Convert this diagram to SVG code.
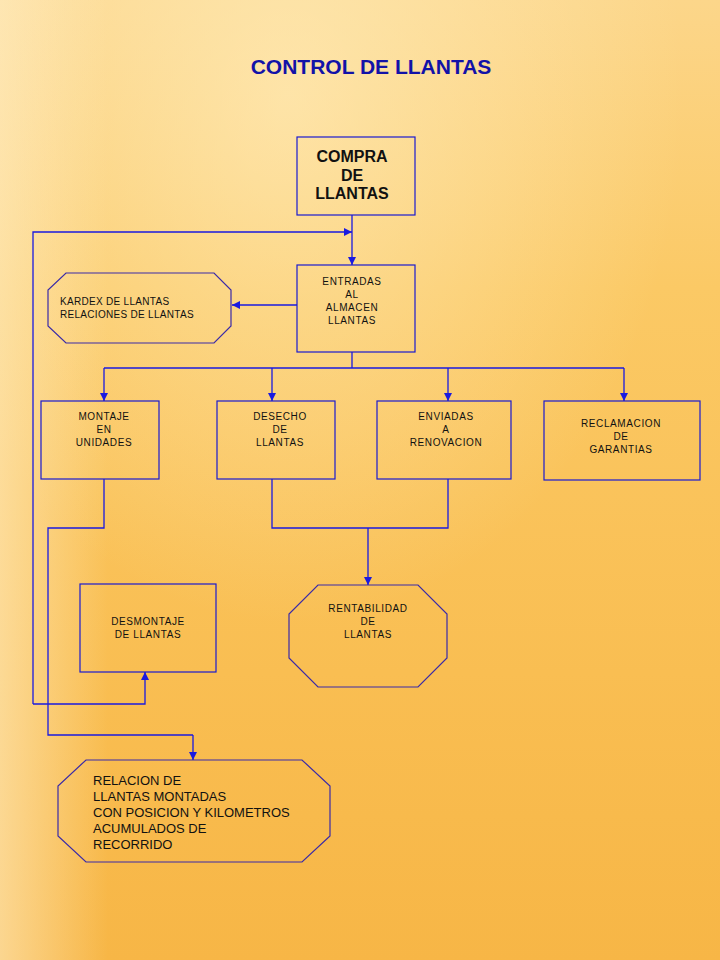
<svg xmlns="http://www.w3.org/2000/svg" width="720" height="960" viewBox="0 0 720 960">
<defs>
<linearGradient id="bg" x1="0" y1="0" x2="0" y2="1">
<stop offset="0" stop-color="#fcd68a"/>
<stop offset="0.3" stop-color="#fbc965"/>
<stop offset="0.7" stop-color="#f9be52"/>
<stop offset="1" stop-color="#f7b646"/>
</linearGradient>
<linearGradient id="lefthl" x1="0" y1="0" x2="1" y2="0">
<stop offset="0" stop-color="#fff0cc" stop-opacity="0.55"/>
<stop offset="0.15" stop-color="#fff0cc" stop-opacity="0"/>
</linearGradient>
<radialGradient id="tophl" cx="0.4" cy="0.1" r="0.55">
<stop offset="0" stop-color="#fff0c4" stop-opacity="0.6"/>
<stop offset="1" stop-color="#fff0c4" stop-opacity="0"/>
</radialGradient>
<marker id="ah" viewBox="0 0 10 10" refX="10" refY="5" markerWidth="9" markerHeight="8" markerUnits="userSpaceOnUse" orient="auto">
<path d="M0,0 L10,5 L0,10 z" fill="#1a1ae0"/>
</marker>
<style>
.box{fill:none;stroke:#1a1ad0;stroke-width:1.2}
.oct{fill:none;stroke:#3a2aa8;stroke-width:1.2}
.ln{fill:none;stroke:#1a1ae0;stroke-width:1.3}
.arr{fill:none;stroke:#1a1ae0;stroke-width:1.3;marker-end:url(#ah)}
.s{font-family:"Liberation Sans",Arial,sans-serif;font-size:10px;fill:#111;text-anchor:middle;letter-spacing:0.6px}
.b{font-family:"Liberation Sans",Arial,sans-serif;font-size:16px;font-weight:bold;fill:#111;text-anchor:middle}
.m{font-family:"Liberation Sans",Arial,sans-serif;font-size:13px;fill:#111}
.t{font-family:"Liberation Sans",Arial,sans-serif;font-size:21px;font-weight:bold;fill:#1212a8;text-anchor:middle}
</style>
</defs>
<rect width="720" height="960" fill="url(#bg)"/>
<rect width="720" height="960" fill="url(#tophl)"/>
<rect width="720" height="960" fill="url(#lefthl)"/>

<text class="t" x="371" y="74">CONTROL DE LLANTAS</text>

<g id="connectors">
<polyline class="arr" points="352,215 352,265"/>
<polyline class="arr" points="33,704 33,232 352,232"/>
<polyline class="arr" points="297,305 232,305"/>
<polyline class="ln" points="352,352 352,368"/>
<polyline class="ln" points="104,368 624,368"/>
<polyline class="arr" points="104,368 104,401"/>
<polyline class="arr" points="272,368 272,401"/>
<polyline class="arr" points="448,368 448,401"/>
<polyline class="arr" points="624,368 624,401"/>
<polyline class="ln" points="104,479 104,528 48,528 48,735 193,735"/>
<polyline class="arr" points="193,735 193,760"/>
<polyline class="ln" points="272,479 272,528 448,528 448,479"/>
<polyline class="arr" points="368,528 368,585"/>
<polyline class="arr" points="33,704 145,704 145,672"/>
</g>

<g id="compra">
<rect class="box" x="297" y="137" width="118" height="78"/>
<text class="b" x="352" y="162">COMPRA</text>
<text class="b" x="352" y="181">DE</text>
<text class="b" x="352" y="199">LLANTAS</text>
</g>

<g id="entradas">
<rect class="box" x="297" y="265" width="118" height="87"/>
<text class="s" x="352" y="285">ENTRADAS</text>
<text class="s" x="352" y="298">AL</text>
<text class="s" x="352" y="311">ALMACEN</text>
<text class="s" x="352" y="324">LLANTAS</text>
</g>

<g id="kardex">
<polygon class="oct" points="66,273 214,273 231,290 231,326 214,343 66,343 48,326 48,290"/>
<text class="s" x="60" y="305" style="text-anchor:start;letter-spacing:0.3px">KARDEX DE LLANTAS</text>
<text class="s" x="60" y="318" style="text-anchor:start;letter-spacing:0.3px">RELACIONES DE LLANTAS</text>
</g>

<g id="montaje">
<rect class="box" x="41" y="401" width="118" height="78"/>
<text class="s" x="104" y="420">MONTAJE</text>
<text class="s" x="104" y="433">EN</text>
<text class="s" x="104" y="446">UNIDADES</text>
</g>

<g id="desecho">
<rect class="box" x="217" y="401" width="118" height="78"/>
<text class="s" x="280" y="420">DESECHO</text>
<text class="s" x="280" y="433">DE</text>
<text class="s" x="280" y="446">LLANTAS</text>
</g>

<g id="enviadas">
<rect class="box" x="377" y="401" width="134" height="78"/>
<text class="s" x="446" y="420">ENVIADAS</text>
<text class="s" x="446" y="433">A</text>
<text class="s" x="446" y="446">RENOVACION</text>
</g>

<g id="reclamacion">
<rect class="box" x="544" y="401" width="156" height="79"/>
<text class="s" x="621" y="427">RECLAMACION</text>
<text class="s" x="621" y="440">DE</text>
<text class="s" x="621" y="453">GARANTIAS</text>
</g>

<g id="desmontaje">
<rect class="box" x="80" y="584" width="136" height="88"/>
<text class="s" x="148" y="625">DESMONTAJE</text>
<text class="s" x="148" y="638">DE LLANTAS</text>
</g>

<g id="rentabilidad">
<polygon class="oct" points="318,585 418,585 447,614 447,658 418,687 318,687 289,658 289,614"/>
<text class="s" x="368" y="612">RENTABILIDAD</text>
<text class="s" x="368" y="625">DE</text>
<text class="s" x="368" y="638">LLANTAS</text>
</g>

<g id="relacion">
<polygon class="oct" points="86,760 302,760 330,786 330,836 302,862 86,862 58,836 58,786"/>
<text class="m" x="93" y="785">RELACION DE</text>
<text class="m" x="93" y="801">LLANTAS MONTADAS</text>
<text class="m" x="93" y="817">CON POSICION Y KILOMETROS</text>
<text class="m" x="93" y="833">ACUMULADOS  DE</text>
<text class="m" x="93" y="849">RECORRIDO</text>
</g>
</svg>
